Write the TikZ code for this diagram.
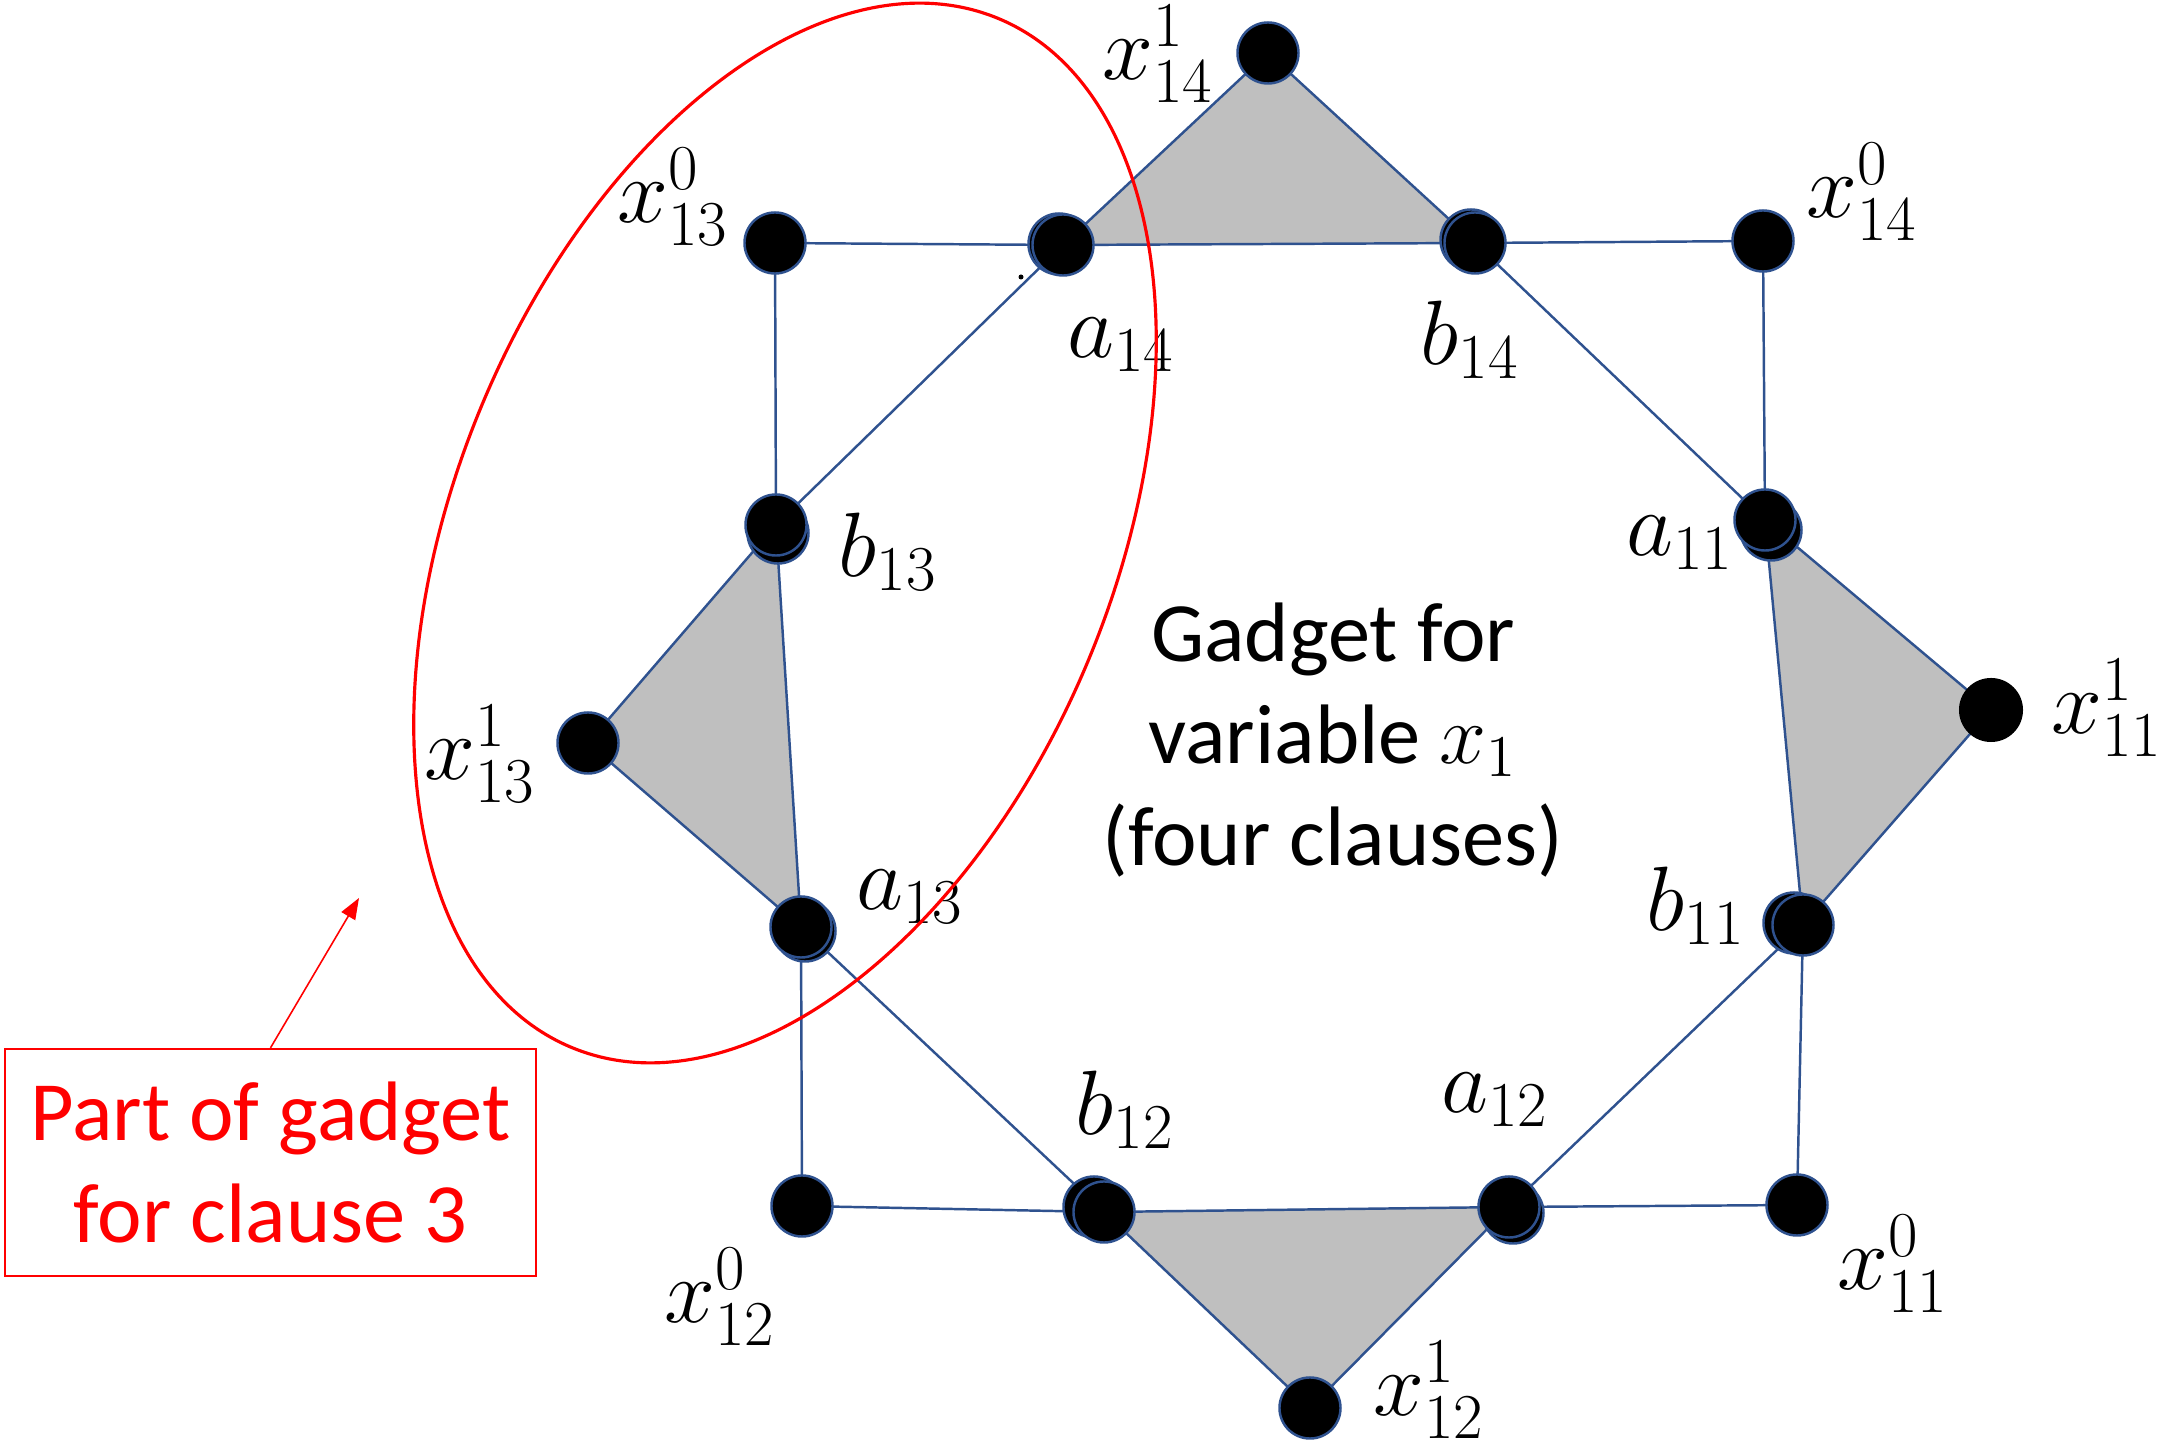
\RequirePackage{fix-cm}
\documentclass[tikz,border=0pt]{standalone}
\usepackage{fontspec}
\newfontfamily\calibri{Carlito}
\usetikzlibrary{backgrounds,arrows.meta}
\definecolor{edgeblue}{HTML}{2F528F}
\definecolor{trigray}{HTML}{BFBFBF}
\definecolor{pptred}{HTML}{FF0000}
\begin{document}
\begin{tikzpicture}[x=0.01cm,y=-0.01cm,
  vtx/.style={circle,fill=black,draw=edgeblue,line width=0.7pt,minimum size=0.61cm,inner sep=0pt},
  vtxplain/.style={circle,fill=black,minimum size=0.64cm,inner sep=0pt},
  edge/.style={draw=edgeblue,line width=0.7pt},
  tri/.style={fill=trigray},
  lbl/.style={font=\fontsize{26}{30}\selectfont,inner sep=0pt},
  caption/.style={font=\calibri\fontsize{24}{29}\selectfont,align=center,inner sep=0pt},
  redline/.style={draw=pptred,line width=0.9pt}]
\useasboundingbox (0,0) rectangle (2171,1440);

% doubled (back) circles
\node[vtx] (a14s) at (1059,244) {};
\node[vtx] (b14s) at (1471,240) {};
\node[vtx] (b13s) at (778,533) {};
\node[vtx] (a11s) at (1771,530) {};
\node[vtx] (a13s) at (805,931) {};
\node[vtx] (b11s) at (1794,923) {};
\node[vtx] (b12s) at (1094,1207) {};
\node[vtx] (a12s) at (1513,1213) {};

% vertices
\node[vtx] (x130) at (775,243) {};
\node[vtx] (a14) at (1063,245) {};
\node[vtx] (x141) at (1268,53) {};
\node[vtx] (b14) at (1475,243) {};
\node[vtx] (x140) at (1763,241) {};
\node[vtx] (b13) at (776,525) {};
\node[vtx] (a11) at (1765,520) {};
\node[vtx] (x131) at (588,743) {};
\node[vtxplain] (x111) at (1991,710) {};
\node[vtx] (a13) at (801,927) {};
\node[vtx] (b11) at (1803,925) {};
\node[vtx] (x120) at (802,1206) {};
\node[vtx] (b12) at (1104,1212) {};
\node[vtx] (a12) at (1509,1207) {};
\node[vtx] (x110) at (1797,1205) {};
\node[vtx] (x121) at (1310,1408) {};

% tiny dot
\node[circle,fill=black,minimum size=0.05cm,inner sep=0pt] (dot) at (1021,277) {};

\begin{pgfonlayer}{background}
  \fill[tri] (a14.center) -- (x141.center) -- (b14.center) -- cycle;
  \fill[tri] (a11.center) -- (x111.center) -- (b11.center) -- cycle;
  \fill[tri] (b12.center) -- (a12.center) -- (x121.center) -- cycle;
  \fill[tri] (b13.center) -- (x131.center) -- (a13.center) -- cycle;
  \path[edge] (x130.center) -- (a14.center);
  \path[edge] (x130.center) -- (b13.center);
  \path[edge] (b13.center) -- (a14.center);
  \path[edge] (a14.center) -- (x141.center);
  \path[edge] (x141.center) -- (b14.center);
  \path[edge] (a14.center) -- (b14.center);
  \path[edge] (b14.center) -- (x140.center);
  \path[edge] (x140.center) -- (a11.center);
  \path[edge] (b14.center) -- (a11.center);
  \path[edge] (a11.center) -- (x111.center);
  \path[edge] (x111.center) -- (b11.center);
  \path[edge] (a11.center) -- (b11.center);
  \path[edge] (b11.center) -- (x110.center);
  \path[edge] (b11.center) -- (a12.center);
  \path[edge] (a12.center) -- (x110.center);
  \path[edge] (a12.center) -- (x121.center);
  \path[edge] (x121.center) -- (b12.center);
  \path[edge] (b12.center) -- (a12.center);
  \path[edge] (b12.center) -- (x120.center);
  \path[edge] (a13.center) -- (b12.center);
  \path[edge] (a13.center) -- (x120.center);
  \path[edge] (b13.center) -- (x131.center);
  \path[edge] (x131.center) -- (a13.center);
  \path[edge] (b13.center) -- (a13.center);
\end{pgfonlayer}

% labels
\node[lbl] (lx141) at (1158,54) {$x^1_{14}$};
\node[lbl] (lx130) at (673,197) {$x^0_{13}$};
\node[lbl] (la14) at (1121,345) {$a_{14}$};
\node[lbl] (lb14) at (1470,340) {$b_{14}$};
\node[lbl] (lx140) at (1862,192) {$x^0_{14}$};
\node[lbl] (lb13) at (888,552) {$b_{13}$};
\node[lbl] (la11) at (1680,543) {$a_{11}$};
\node[lbl] (lx131) at (480,754) {$x^1_{13}$};
\node[lbl] (lx111) at (2107,708) {$x^1_{11}$};
\node[lbl] (la13) at (910,897) {$a_{13}$};
\node[lbl] (lb11) at (1696,906) {$b_{11}$};
\node[lbl] (lb12) at (1125,1110) {$b_{12}$};
\node[lbl] (la12) at (1495,1100) {$a_{12}$};
\node[lbl] (lx120) at (720,1297) {$x^0_{12}$};
\node[lbl] (lx110) at (1893,1264) {$x^0_{11}$};
\node[lbl] (lx121) at (1429,1390) {$x^1_{12}$};

% caption
\node[caption] (cap) at (1333,740) {Gadget for\\variable $x_1$\\(four clauses)};

% red ellipse
\begin{scope}[shift={(785,533)},rotate=-22.5]
  \draw[redline] (0,0) ellipse (329 and 557);
\end{scope}

% red box and arrow
\node[draw=pptred,line width=0.6pt,text=pptred,minimum width=5.31cm,minimum height=2.27cm,
      font=\calibri\fontsize{24}{29}\selectfont,align=center,inner sep=0pt] (box) at (270.5,1162.5)
      {Part of gadget\\for clause 3};
\coordinate (tip) at (359,898);
\draw[draw=pptred,line width=0.45pt,-{Triangle[length=6pt,width=4.5pt]}] (box.north) -- (tip);
\end{tikzpicture}
\end{document}
